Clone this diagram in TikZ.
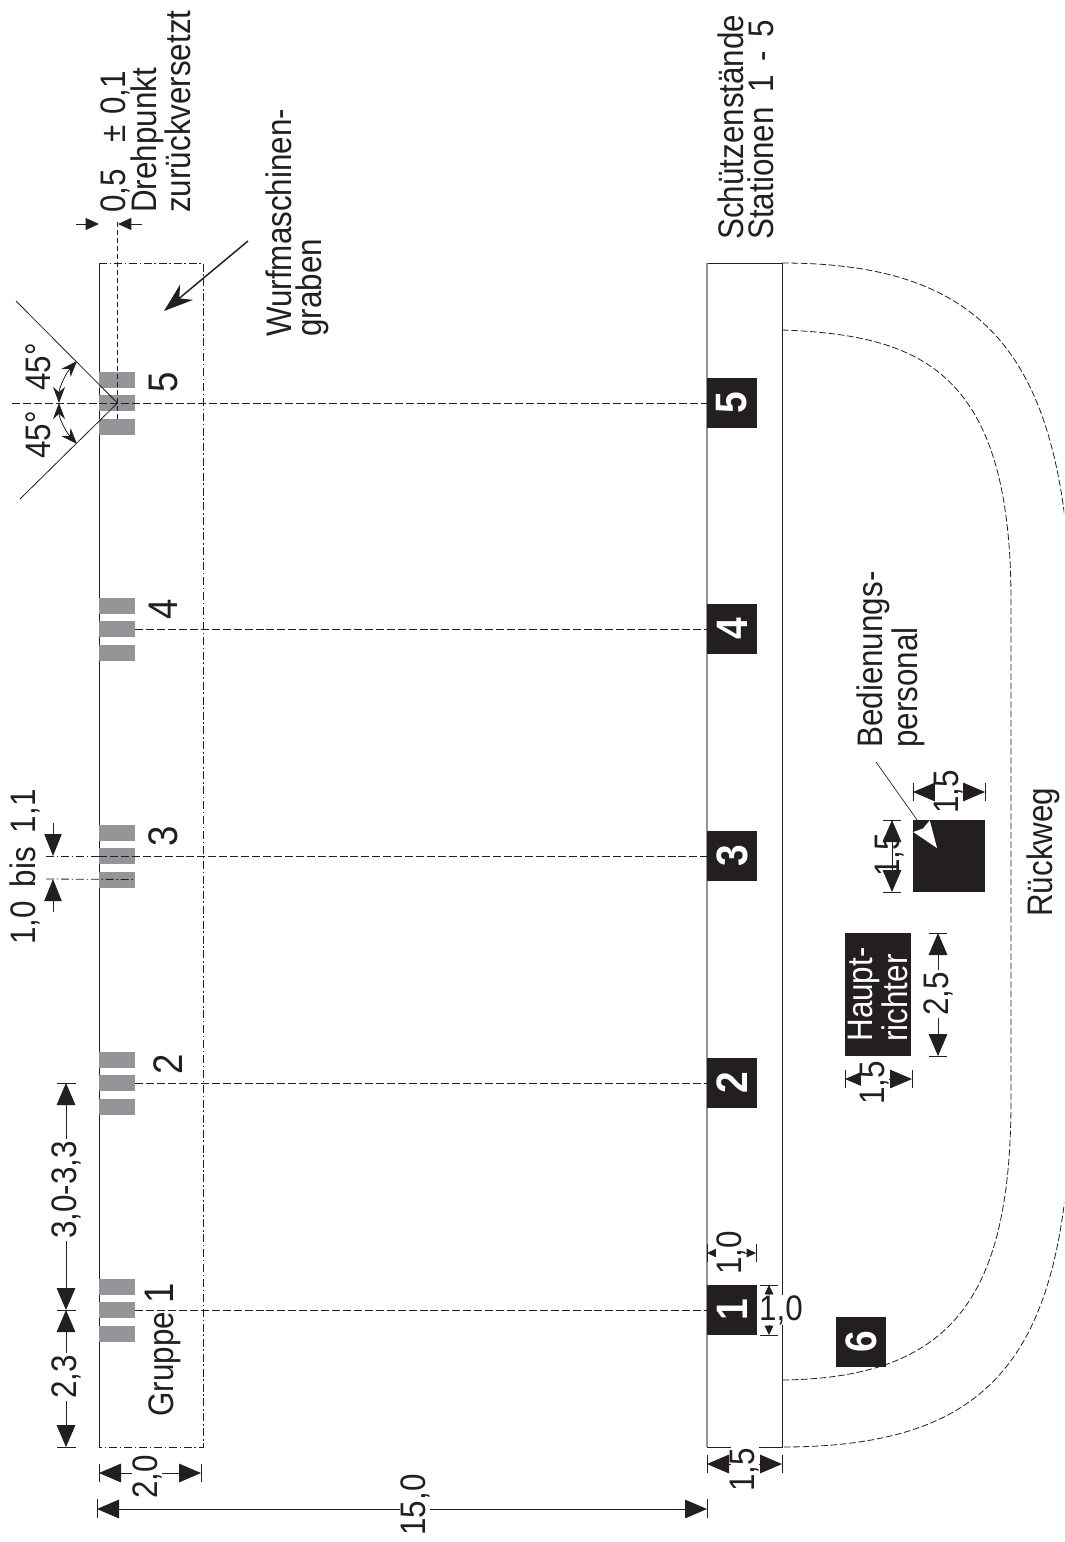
\documentclass[tikz,border=0pt]{standalone}
\usepackage{fontspec}
\usetikzlibrary{arrows.meta}
\newfontfamily\lab[FakeStretch=0.885]{Liberation Sans}
\definecolor{bar}{HTML}{939598}
\definecolor{ink}{HTML}{231F20}
\tikzset{
  lbl/.style={font={\lab\fontsize{26.6}{22.5}\selectfont},text=ink,rotate=90,inner sep=0pt,align=left},
  dimtxt/.style={lbl,fill=white,inner xsep=1.5pt,inner ysep=0pt},
  big/.style={font={\lab\fontsize{31}{31}\selectfont},text=ink,rotate=90,inner sep=0pt},
  stnum/.style={font={\bfseries\lab\fontsize{33}{33}\selectfont},text=white,rotate=90,inner sep=0pt},
  stn/.style={fill=ink,draw=none,minimum width=37.5pt,minimum height=37.5pt,inner sep=0pt},
  gbar/.style={fill=bar,draw=none,minimum width=27pt,minimum height=12pt,inner sep=0pt},
  thin line/.style={draw=ink,line width=0.65pt},
  guide/.style={draw=ink,line width=0.6pt,dash pattern=on 6pt off 2.2pt},
  guidedot/.style={draw=ink,line width=0.6pt,dash pattern=on 6pt off 2pt on 1.2pt off 2pt},
  curve/.style={draw=ink,line width=0.6pt,dash pattern=on 5pt off 2pt},
  tick/.style={draw=ink,line width=0.5pt},
  dimL/.style={draw=ink,line width=0.6pt,{Triangle[length=16.5pt,width=14pt,fill=ink]}-{Triangle[length=16.5pt,width=14pt,fill=ink]}},
  dimS/.style={draw=ink,line width=0.5pt,{Triangle[length=7pt,width=6.5pt,fill=ink]}-{Triangle[length=7pt,width=6.5pt,fill=ink]}},
  oneL/.style={draw=ink,line width=0.6pt,-{Triangle[length=16.5pt,width=13pt,fill=ink]}},
  arcA/.style={draw=ink,line width=0.6pt,{Stealth[length=12pt,width=9pt,fill=ink]}-{Stealth[length=12pt,width=9pt,fill=ink]}}
}
\begin{document}
\begin{tikzpicture}[x=0.75pt,y=-0.75pt]
\useasboundingbox (0,0) rectangle (1064,1542);
\clip (0,0) rectangle (1064,1542);
\fill[white] (0,0) rectangle (1064,1542);
% trench and firing line
\draw[guidedot] (99,263) -- (203,263) -- (203,1447) -- (99,1447);
\draw[thin line] (99,263) -- (99,1447);
% grey target bars
\foreach \n/\y in {1/1310,2/1083,3/856,4/629,5/403}{
  \node[gbar] (gt\n) at (117,\y-23.5) {};
  \node[gbar] (gm\n) at (117,\y) {};
  \node[gbar] (gb\n) at (117,\y+23.5) {};
}
% shooter stand strip
\draw[thin line] (707,263) rectangle (782,1447);
\draw[draw=bar,line width=1.1pt] (707,263) -- (707,1447);
% stations
\foreach \n/\y in {1/1310,2/1083,3/856,4/629,5/403}{
  \node[stn] (s\n) at (732,\y) {};
  \node[stnum] (st\n) at (s\n) {\n};
}
\node[stn] (s6) at (861,1342) {};
\node[stnum] (st6) at (s6) {6};
% guides
\coordinate (top5) at (12,403);
\coordinate (top3) at (46,856);
\coordinate (top3b) at (46,879);
\draw[guide] (top5) -- (s5.west);
\draw[guide] (gm4.east) -- (s4.west);
\draw[guidedot] (top3) -- (99,856);
\draw[guide] (99,856) -- (s3.west);
\draw[guidedot] (top3b) -- (gb3.east);
\draw[guide] (gm2.east) -- (s2.west);
\draw[guide] (gm1.east) -- (s1.west);
% pivot line and 45 degree lines
\coordinate (pivot) at (117.5,403);
\coordinate (pivtop) at (117.5,222);
\coordinate (l45a) at (16,301);
\coordinate (l45b) at (20,499);
\draw[guide,dash pattern=on 4pt off 2pt] (pivtop) -- (117.5,422);
\draw[thin line,line width=0.6pt] (l45a) -- (pivot) -- (l45b);
\draw[arcA] (77,361) .. controls (66,373) and (59,388) .. (59,403);
\draw[arcA] (77,444) .. controls (66,432) and (59,418) .. (59,403);
\node[lbl] (a45a) at (38,367) {45°};
\node[lbl] (a45b) at (38,435) {45°};
% pivot offset dim
\coordinate (d05a) at (76,224);
\coordinate (d05b) at (99,224);
\coordinate (d05c) at (142,224);
\coordinate (d05d) at (118,224);
\draw[draw=ink,line width=0.6pt,-{Triangle[length=10pt,width=9pt,fill=ink]}] (d05a) -- (d05b);
\draw[draw=ink,line width=0.6pt,-{Triangle[length=10pt,width=9pt,fill=ink]}] (d05c) -- (d05d);
\node[lbl,anchor=west] (t05) at (115.5,213) {0,5\hspace{20pt}±\hspace{8pt}0,1};
\node[lbl,anchor=west] (tdreh) at (161,213) {Drehpunkt\\zurückversetzt};
% Wurfmaschinengraben
\node[lbl,anchor=west] (twurf) at (297,337) {Wurfmaschinen-\\graben};
\coordinate (warr) at (248,241);
\coordinate (warrb) at (164,311);
\draw[draw=ink,line width=1.1pt,-{Stealth[length=22pt,width=15pt,fill=ink]}] (warr) -- (warrb);
% group numbers
\node[big] (n5) at (163,382) {5};
\node[big] (n4) at (163,609) {4};
\node[big] (n3) at (163,836) {3};
\node[big] (n2) at (168,1064) {2};
\node[lbl,anchor=west] (n1) at (163,1417) {Gruppe {\fontsize{31}{31}\selectfont 1}};
% 1,0 bis 1,1
\coordinate (b1) at (53,823);
\coordinate (b2) at (53,856);
\coordinate (b3) at (53,912);
\coordinate (b4) at (53,879);
\draw[oneL] (b1) -- (b2);
\draw[oneL] (b3) -- (b4);
\node[lbl] (tbis) at (25,867) {1,0\hspace{10.4pt}bis\hspace{10.4pt}1,1};
% left dims
\draw[tick] (57,1083) -- (76,1083) (57,1310) -- (76,1310) (57,1447) -- (76,1447);
\draw[dimL] (66,1083) -- (66,1310);
\draw[dimL] (66,1310) -- (66,1447);
\node[dimtxt] (t23) at (66,1377) {2,3};
\node[dimtxt] (t30) at (66,1190) {3,0-3,3};
% bottom dims
\draw[tick] (99,1464) -- (99,1482) (201,1464) -- (201,1482);
\draw[dimL] (99,1473) -- (201,1473);
\node[dimtxt] (t20) at (147,1477) {2,0};
\draw[tick] (97,1499) -- (97,1518) (707,1499) -- (707,1518);
\draw[dimL] (97,1509) -- (707,1509);
\node[dimtxt] (t150) at (415,1505) {15,0};
\draw[tick] (707,1455) -- (707,1473) (782,1455) -- (782,1473);
\draw[dimL] (707,1464) -- (782,1464);
\node[dimtxt] (t15a) at (745,1470) {1,5};
% station dims
\draw[tick] (707,1244) -- (707,1262) (756,1244) -- (756,1262);
\draw[dimS] (707,1253) -- (756,1253);
\node[dimtxt] (t10a) at (731,1253) {1,0};
\draw[tick] (760,1285) -- (778,1285) (760,1335) -- (778,1335);
\draw[dimS] (769,1285) -- (769,1335);
\node[dimtxt,rotate=-90] (t10b) at (781,1310) {1,0};
% return path curves
\draw[curve] (782,330) .. controls (920,335) and (1011,370) .. (1011,600)
  -- (1011,1100) .. controls (1011,1300) and (950,1378) .. (782,1380);
\draw[curve] (782,263) .. controls (1000,263) and (1072,370) .. (1072,650)
  -- (1072,1060) .. controls (1072,1340) and (1010,1447) .. (782,1447);
% Hauptrichter
\node[fill=ink,minimum width=49.5pt,minimum height=92.25pt,inner sep=0pt] (hr) at (878,994.5) {};
\node[lbl,text=white,anchor=center] (thr) at (hr) {Haupt-\\richter};
\draw[tick] (929,933) -- (947,933) (929,1056) -- (947,1056);
\draw[dimL] (938,933) -- (938,1056);
\node[dimtxt] (t25) at (938,994) {2,5};
\draw[tick] (845,1070) -- (845,1088) (912,1070) -- (912,1088);
\draw[dimL] (845,1079) -- (912,1079);
\node[dimtxt] (t15b) at (875,1083) {1,5};
% Bedienung
\node[fill=ink,minimum width=54pt,minimum height=54pt,inner sep=0pt] (bed) at (949,856) {};
\draw[tick] (913,783) -- (913,801) (985,783) -- (985,801);
\draw[dimL] (913,792) -- (985,792);
\node[dimtxt] (t15c) at (949,792) {1,5};
\draw[tick] (883,820) -- (901,820) (883,892) -- (901,892);
\draw[dimL] (892,820) -- (892,892);
\node[lbl] (t15d) at (890,855) {1,5};
\coordinate (barr) at (876,762);
\coordinate (barrb) at (937,848);
\draw[draw=ink,line width=0.5pt,-{Stealth[length=20pt,width=15pt,inset=2pt,fill=white,color=white]}] (barr) -- (barrb);
\node[lbl,anchor=west] (tbed) at (891,748) {Bedienungs-\\personal};
% Rueckweg, Schuetzen
\node[lbl,anchor=west] (tr) at (1043,917) {Rückweg};
\node[lbl,anchor=west] (tsch) at (746,240) {Schützenstände\\Stationen\hspace{11pt}1\hspace{10pt}-\hspace{10pt}5};
\end{tikzpicture}
\end{document}
